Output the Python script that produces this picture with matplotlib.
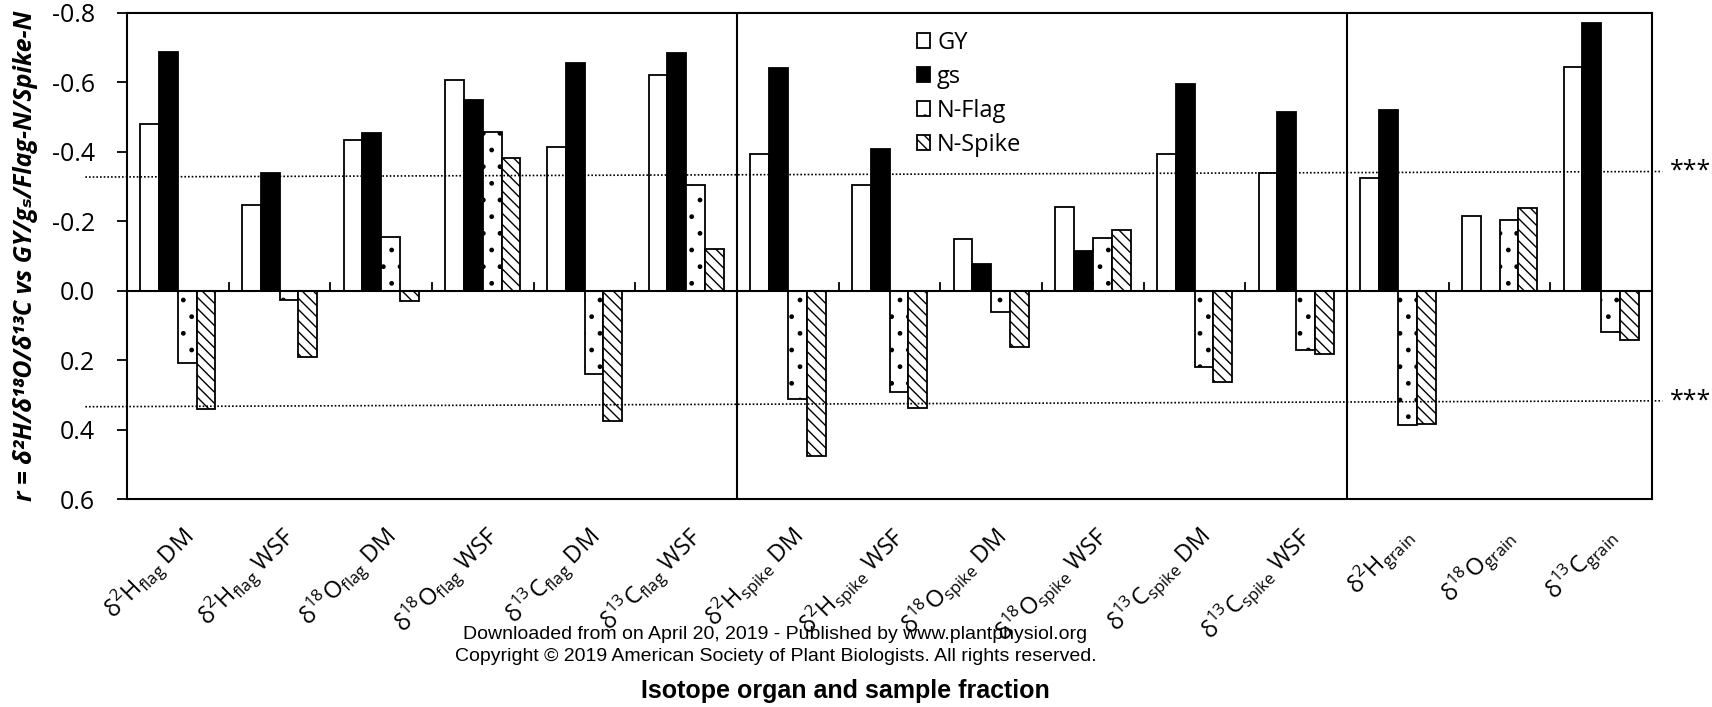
import numpy as np
import matplotlib.pyplot as plt

plt.rcParams['font.family'] = ['Open Sans', 'DejaVu Sans']
plt.rcParams['mathtext.fontset'] = 'custom'
plt.rcParams['mathtext.rm'] = 'Open Sans'
plt.rcParams['hatch.linewidth'] = 1.0

# Isotope organ / sample fraction
categories = [
    'δ$^{\\mathregular{2}}$H$_{\\mathregular{flag}}$ DM',
    'δ$^{\\mathregular{2}}$H$_{\\mathregular{flag}}$ WSF',
    'δ$^{\\mathregular{18}}$O$_{\\mathregular{flag}}$ DM',
    'δ$^{\\mathregular{18}}$O$_{\\mathregular{flag}}$ WSF',
    'δ$^{\\mathregular{13}}$C$_{\\mathregular{flag}}$ DM',
    'δ$^{\\mathregular{13}}$C$_{\\mathregular{flag}}$ WSF',
    'δ$^{\\mathregular{2}}$H$_{\\mathregular{spike}}$ DM',
    'δ$^{\\mathregular{2}}$H$_{\\mathregular{spike}}$ WSF',
    'δ$^{\\mathregular{18}}$O$_{\\mathregular{spike}}$ DM',
    'δ$^{\\mathregular{18}}$O$_{\\mathregular{spike}}$ WSF',
    'δ$^{\\mathregular{13}}$C$_{\\mathregular{spike}}$ DM',
    'δ$^{\\mathregular{13}}$C$_{\\mathregular{spike}}$ WSF',
    'δ$^{\\mathregular{2}}$H$_{\\mathregular{grain}}$',
    'δ$^{\\mathregular{18}}$O$_{\\mathregular{grain}}$',
    'δ$^{\\mathregular{13}}$C$_{\\mathregular{grain}}$',
]

# correlation coefficients (r)
gy = [-0.480, -0.247, -0.434, -0.607, -0.414, -0.622, -0.394, -0.303,
      -0.148, -0.241, -0.394, -0.340, -0.324, -0.216, -0.644]
gs = [-0.688, -0.338, -0.454, -0.550, -0.654, -0.685, -0.642, -0.409,
      -0.077, -0.113, -0.594, -0.514, -0.520, 0.0, -0.770]
n_flag = [0.208, 0.028, -0.154, -0.456, 0.240, -0.303, 0.312, 0.293,
          0.062, -0.151, 0.219, 0.171, 0.388, -0.203, 0.120]
n_spike = [0.341, 0.191, 0.029, -0.382, 0.375, -0.120, 0.476, 0.337,
           0.163, -0.176, 0.264, 0.181, 0.383, -0.239, 0.142]

# significance thresholds (dotted lines, drawn slightly tilted as in the original)
sig_upper = (-0.327, -0.343)
sig_lower = (0.334, 0.317)
panel_breaks = [5.5, 11.5]

x = np.arange(len(categories))
w = 0.185

fig = plt.figure(figsize=(17.12, 7.07), dpi=100)
ax = fig.add_axes([0.0742, 0.294, 0.8908, 0.688])

ax.bar(x - 1.5 * w, gy, w, color='white', edgecolor='black', lw=1.3, label='GY')
ax.bar(x - 0.5 * w, gs, w, color='black', edgecolor='black', lw=1.3, label='gs')
ax.bar(x + 0.5 * w, n_flag, w, color='white', edgecolor='black', lw=1.3,
       hatch='.', label='N-Flag')
ax.bar(x + 1.5 * w, n_spike, w, color='white', edgecolor='black', lw=1.3,
       hatch='\\\\\\', label='N-Spike')

ax.set_xlim(-0.5, len(categories) - 0.5)
ax.set_ylim(0.6, -0.8)
yt = np.round(np.arange(-0.8, 0.61, 0.2), 1)
ax.set_yticks(yt)
ax.set_yticklabels(['%.1f' % abs(v) if v == 0 else '%.1f' % v for v in yt])
ax.tick_params(axis='y', direction='out', length=7, width=1.3, labelsize=18, pad=16)

ax.set_xticks(x)
ax.set_xticklabels(categories, rotation=45, ha='right', va='top',
                   rotation_mode='anchor', fontsize=17)
ax.tick_params(axis='x', length=0, pad=16)

for s in ax.spines.values():
    s.set_linewidth(1.5)

# zero line and small category ticks
ax.axhline(0, color='black', lw=1.5)
for b in np.arange(0.5, len(categories) - 1, 1.0):
    if b not in panel_breaks:
        ax.plot([b, b], [0, -0.022], color='black', lw=1.3)

# panel separators
for b in panel_breaks:
    ax.axvline(b, color='black', lw=1.5)

# significance lines
ax.plot([-0.91, 14.6], sig_upper, color='black', ls=(0, (1, 1.2)), lw=1.2, clip_on=False)
ax.plot([-0.91, 14.6], sig_lower, color='black', ls=(0, (1, 1.2)), lw=1.2, clip_on=False)
ax.text(14.68, sig_upper[1], '***', fontsize=18, va='center', ha='left', clip_on=False)
ax.text(14.68, sig_lower[1], '***', fontsize=18, va='center', ha='left', clip_on=False)

ax.set_ylabel('r = δ²H/δ¹⁸O/δ¹³C vs GY/gₛ/Flag-N/Spike-N',
              fontsize=18, fontweight='bold', fontstyle='italic', labelpad=10)

ax.legend(loc='upper left', bbox_to_anchor=(0.518, 0.962), frameon=False,
          fontsize=17, handlelength=0.55, handleheight=0.6, handletextpad=0.3,
          labelspacing=0.42, borderpad=0, borderaxespad=0)

fig.text(0.494, 0.022, 'Isotope organ and sample fraction', ha='center', va='center',
         fontsize=18, fontweight='bold', family='Liberation Sans')
fig.text(0.453, 0.102, 'Downloaded from on April 20, 2019 - Published by www.plantphysiol.org',
         ha='center', va='center', fontsize=14, family='Liberation Sans')
fig.text(0.453, 0.071, 'Copyright © 2019 American Society of Plant Biologists. All rights reserved.',
         ha='center', va='center', fontsize=14, family='Liberation Sans')

fig.savefig('out.png', dpi=100)
